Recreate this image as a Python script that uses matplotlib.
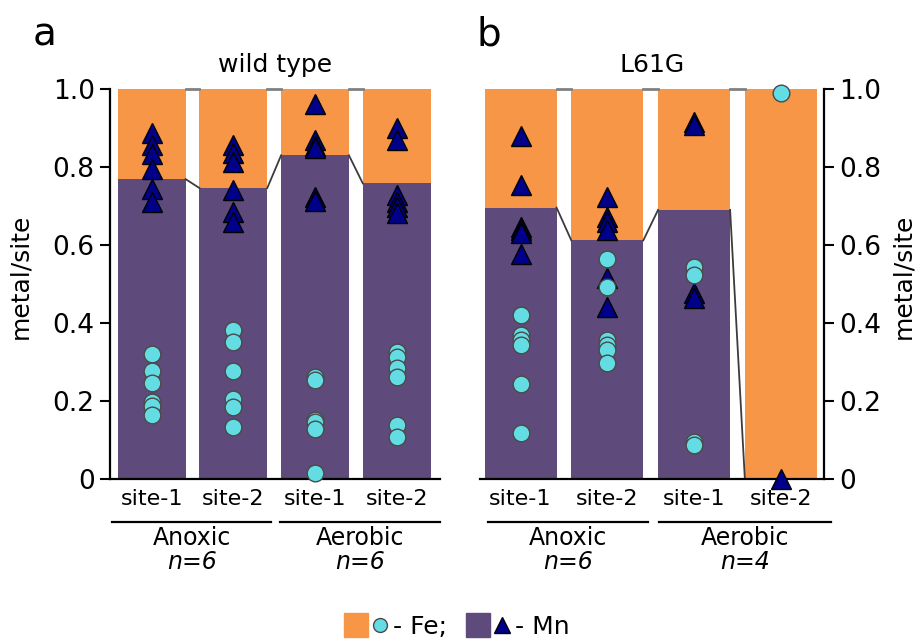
import matplotlib
matplotlib.use("Agg")
import matplotlib.pyplot as plt
from matplotlib.lines import Line2D
from matplotlib.legend_handler import HandlerTuple

plt.rcParams['font.family'] = ['DejaVu Sans']

# ---------------- data ----------------
sites = ['site-1', 'site-2', 'site-1', 'site-2']
groups = ['Anoxic', 'Aerobic']
wt_n = ['n=6', 'n=6']
mut_n = ['n=6', 'n=4']
yticks = [0, 0.2, 0.4, 0.6, 0.8, 1.0]
ytick_labels = ['0', '0.2', '0.4', '0.6', '0.8', '1.0']

# Mn fraction per site (purple part); Fe is the remainder (orange)
wt_mn_frac = [0.769, 0.746, 0.830, 0.758]
mut_mn_frac = [0.696, 0.612, 0.690, 0.0]

# individual measurements (per site)
wt_mn_pts = [
    [0.886, 0.856, 0.833, 0.795, 0.744, 0.710],
    [0.856, 0.835, 0.814, 0.741, 0.685, 0.658],
    [0.962, 0.870, 0.855, 0.848, 0.724, 0.712],
    [0.899, 0.868, 0.728, 0.711, 0.698, 0.681],
]
wt_fe_pts = [
    [0.321, 0.278, 0.247, 0.198, 0.186, 0.164],
    [0.382, 0.352, 0.278, 0.205, 0.184, 0.133],
    [0.262, 0.254, 0.152, 0.145, 0.128, 0.015],
    [0.326, 0.312, 0.284, 0.262, 0.138, 0.107],
]
mut_mn_pts = [
    [0.879, 0.754, 0.647, 0.638, 0.630, 0.577],
    [0.722, 0.673, 0.660, 0.638, 0.515, 0.442],
    [0.916, 0.908, 0.476, 0.463],
    [0.0],
]
mut_fe_pts = [
    [0.421, 0.369, 0.356, 0.344, 0.244, 0.117],
    [0.564, 0.493, 0.356, 0.344, 0.331, 0.297],
    [0.544, 0.523, 0.096, 0.087],
    [0.990],
]

# ---------------- style ----------------
ORANGE = '#F79646'
PURPLE = '#5E4A7B'
CYAN = '#63DDE3'
NAVY = '#00008B'
W = 0.83
FS_TICK = 19
FS_SITE = 16
FS_GROUP = 17

fig = plt.figure(figsize=(9.15, 6.39), dpi=100)
ax1 = fig.add_axes([110/915, 160/639, 330/915, 390/639])
ax2 = fig.add_axes([480/915, 160/639, 344/915, 390/639])


def draw_panel(ax, mn_frac, mn_pts, fe_pts, xlim, lines, ns, right=False):
    x = list(range(len(sites)))
    fe_frac = [1 - v for v in mn_frac]
    ax.bar(x, mn_frac, width=W, color=PURPLE, zorder=1)
    ax.bar(x, fe_frac, bottom=mn_frac, width=W, color=ORANGE, zorder=1)
    for i in range(len(x) - 1):
        ax.plot([x[i] + W/2, x[i+1] - W/2], [mn_frac[i], mn_frac[i+1]],
                color='#3c3c3c', lw=1.3, zorder=2)
        ax.plot([x[i] + W/2, x[i+1] - W/2], [1, 1],
                color='#808080', lw=2.0, zorder=2, clip_on=False)
    for i in x:
        ax.plot([i]*len(mn_pts[i]), mn_pts[i], ls='none', marker='^', ms=15,
                mfc=NAVY, mec='black', mew=1.0, zorder=4, clip_on=False)
        ax.plot([i]*len(fe_pts[i]), fe_pts[i], ls='none', marker='o', ms=12,
                mfc=CYAN, mec='#4a4a4a', mew=1.0, zorder=5, clip_on=False)
    ax.set_xlim(*xlim)
    ax.set_ylim(0, 1)
    ax.set_yticks(yticks)
    ax.set_yticklabels(ytick_labels, fontsize=FS_TICK)
    ax.set_xticks(x)
    ax.set_xticklabels(sites, fontsize=FS_SITE)
    ax.tick_params(axis='x', length=0, pad=7)
    ax.tick_params(axis='y', length=7, width=1.5, direction='out', pad=4)
    ax.spines['top'].set_visible(False)
    for s in ['left', 'right', 'bottom']:
        ax.spines[s].set_linewidth(1.6)
    if right:
        ax.spines['left'].set_visible(False)
        ax.yaxis.tick_right()
        ax.yaxis.set_label_position('right')
    else:
        ax.spines['right'].set_visible(False)
    tr = ax.get_xaxis_transform()
    for (x0, x1), g, n in zip(lines, groups, ns):
        ax.plot([x0, x1], [-0.1095, -0.1095], color='black', lw=1.6,
                transform=tr, clip_on=False)
        xc = (x0 + x1) / 2
        ax.text(xc, -0.151, g, transform=tr, ha='center', va='center',
                fontsize=FS_GROUP)
        ax.text(xc, -0.212, n, transform=tr, ha='center', va='center',
                fontsize=FS_GROUP, style='italic')


draw_panel(ax1, wt_mn_frac, wt_mn_pts, wt_fe_pts, (-0.51, 3.53),
           [(-0.483, 1.461), (1.571, 3.527)], wt_n)
draw_panel(ax2, mut_mn_frac, mut_mn_pts, mut_fe_pts, (-0.467, 3.497),
           [(-0.374, 1.469), (1.596, 3.577)], mut_n, right=True)

ax1.set_ylabel('metal/site', fontsize=18)
ax1.yaxis.set_label_coords(-0.235, 0.52)
ax2.set_ylabel('metal/site', fontsize=18)
ax2.yaxis.set_label_coords(1.195, 0.52)

ax1.set_title('wild type', fontsize=18, pad=12)
ax2.set_title('L61G', fontsize=18, pad=12)

fig.text(33/915, 1 - 46/639, 'a', fontsize=28, ha='left', va='baseline')
fig.text(476/915, 1 - 46/639, 'b', fontsize=28, ha='left', va='baseline')

# legend
sq_fe = Line2D([], [], ls='none', marker='s', ms=17, mfc=ORANGE, mec=ORANGE)
ci_fe = Line2D([], [], ls='none', marker='o', ms=10, mfc=CYAN, mec='#4a4a4a')
sq_mn = Line2D([], [], ls='none', marker='s', ms=17, mfc=PURPLE, mec=PURPLE)
tr_mn = Line2D([], [], ls='none', marker='^', ms=11, mfc=NAVY, mec='black')
fig.legend(handles=[(sq_fe, ci_fe), (sq_mn, tr_mn)], labels=['- Fe;', '- Mn'],
           handler_map={tuple: HandlerTuple(ndivide=None, pad=0.1)},
           loc='lower center', bbox_to_anchor=(0.5, -0.035), ncol=2,
           frameon=False, fontsize=18, handlelength=1.8,
           handletextpad=0.1, columnspacing=0.8)

fig.savefig('out.png', dpi=100)
